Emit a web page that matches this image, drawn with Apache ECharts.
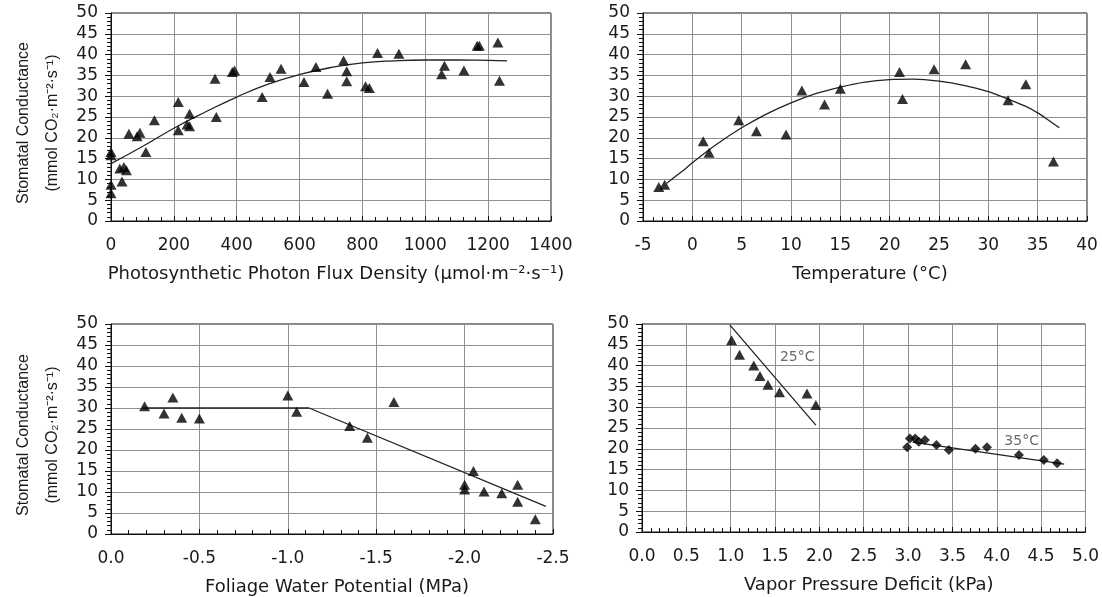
<!DOCTYPE html>
<html>
<head>
<meta charset="utf-8">
<script src="https://cdn.jsdelivr.net/npm/echarts@6/dist/echarts.min.js"></script>
<style>
html, body { margin: 0; padding: 0; background: #fff; }
#main { width: 1102px; height: 597px; }
</style>
</head>
<body>
<div id="main"></div>
<script>
// 光量子通量密度 (PPFD) 面板
var ppfdPoints = [
    [0, 16.6], [0, 15.8], [0, 8.7], [0, 6.7], [28, 12.6], [41, 13.0], [49, 12.2], [35, 9.5],
    [57, 21.0], [83, 20.4], [92, 21.2], [111, 16.6], [138, 24.2], [214, 28.6], [214, 21.8],
    [242, 23.2], [250, 22.8], [250, 25.8], [331, 34.2], [335, 25.0], [386, 35.8], [393, 36.2],
    [481, 29.8], [506, 34.6], [541, 36.6], [614, 33.4], [652, 37.0], [689, 30.6], [740, 38.6],
    [750, 36.0], [750, 33.6], [810, 32.4], [822, 32.0], [848, 40.4], [916, 40.2], [1052, 35.3],
    [1061, 37.3], [1123, 36.2], [1165, 42.1], [1172, 42.1], [1231, 42.9], [1236, 33.7]
];
var ppfdCurve = [
    [0, 13.8], [100, 17.9], [200, 22.3], [300, 26.2], [400, 29.8], [500, 32.9], [600, 35.2],
    [700, 36.9], [800, 38.0], [900, 38.5], [1000, 38.7], [1100, 38.7], [1200, 38.6], [1260, 38.5]
];

// 温度面板
var tempPoints = [
    [-3.4, 8.2], [-2.8, 8.7], [1.1, 19.2], [1.7, 16.4], [4.7, 24.2], [6.5, 21.6], [9.5, 20.8],
    [11.1, 31.4], [13.4, 28.0], [15.0, 31.8], [21.0, 35.8], [21.3, 29.3], [24.5, 36.5],
    [27.7, 37.7], [32.0, 29.0], [33.8, 32.9], [36.6, 14.3]
];
var tempCurve = [
    [-2.6, 9.1], [-1, 12.0], [0, 14.0], [2.5, 18.5], [5, 22.4], [7.5, 25.7], [10, 28.4],
    [12.5, 30.6], [15, 32.2], [17.5, 33.4], [20, 34.0], [22.5, 34.1], [25, 33.6], [27.5, 32.6],
    [30, 31.1], [32, 29.3], [33.75, 27.6], [35, 26.0], [36, 24.4], [37.2, 22.4]
];

// 叶水势面板
var wpPoints = [
    [-0.19, 30.4], [-0.30, 28.7], [-0.35, 32.5], [-0.40, 27.7], [-0.50, 27.5], [-1.00, 33.0],
    [-1.05, 29.1], [-1.35, 25.7], [-1.45, 22.9], [-1.60, 31.4], [-2.00, 11.7], [-2.00, 10.6],
    [-2.05, 15.0], [-2.11, 10.1], [-2.21, 9.7], [-2.30, 11.7], [-2.30, 7.7], [-2.40, 3.5]
];
var wpLine = [[-0.18, 30], [-1.12, 30], [-2.46, 6.6]];

// 饱和水汽压差面板
var vpd25Points = [
    [1.01, 46.1], [1.10, 42.6], [1.26, 40.0], [1.33, 37.5], [1.42, 35.4], [1.55, 33.6],
    [1.86, 33.3], [1.96, 30.5]
];
var vpd25Line = [[0.99, 49.8], [1.96, 25.7]];
var vpd35Points = [
    [2.99, 20.4], [3.02, 22.5], [3.08, 22.5], [3.12, 21.7], [3.19, 22.1], [3.32, 20.9],
    [3.46, 19.7], [3.76, 20.0], [3.89, 20.4], [4.25, 18.5], [4.53, 17.3], [4.68, 16.5]
];
var vpd35Line = [[3.05, 21.6], [4.76, 16.3]];
var vpdLabels = [[1.75, 42.1, '25°C'], [4.28, 21.8, '35°C']];

var yName = 'Stomatal Conductance\n(mmol CO\u2082\u00b7m\u207b\u00b2\u00b7s\u207b\u00b9)';
var tickFont = 'DejaVu Sans';
var gridColor = '#8f8f8f';

function xAxisOf(gi, min, max, step, name, digits, inverse) {
    return {
        type: 'value', gridIndex: gi, min: min, max: max, interval: step, inverse: !!inverse,
        name: name, nameLocation: 'middle', nameGap: 44,
        nameTextStyle: { fontFamily: tickFont, fontSize: 18, color: '#1a1a1a', padding: [0, 0, 0, 10] },
        axisLine: { onZero: false, lineStyle: { color: '#111', width: 1 } },
        axisTick: { inside: true, length: 5, lineStyle: { color: '#111' } },
        minorTick: { show: true, splitNumber: 5, length: 4, lineStyle: { color: '#111' } },
        axisLabel: {
            fontFamily: tickFont, fontSize: 17, color: '#1a1a1a', margin: 16,
            showMinLabel: true, showMaxLabel: true, hideOverlap: false,
            formatter: function (v) { return digits ? v.toFixed(digits) : String(v); }
        },
        splitLine: { show: true, lineStyle: { color: gridColor, width: 1 } }
    };
}

function yAxisOf(gi, withName) {
    return {
        type: 'value', gridIndex: gi, min: 0, max: 50, interval: 5,
        name: withName ? yName : '', nameLocation: 'middle', nameGap: 44, nameRotate: 90,
        nameTextStyle: { fontFamily: 'Liberation Sans', fontSize: 16, color: '#1a1a1a', lineHeight: 29, padding: [0, 12, 0, 0] },
        axisLine: { onZero: false, lineStyle: { color: '#111', width: 1 } },
        axisTick: { inside: false, length: 6, lineStyle: { color: '#111' } },
        minorTick: { show: true, splitNumber: 5, length: 4, lineStyle: { color: '#111' } },
        axisLabel: { fontFamily: tickFont, fontSize: 17, color: '#1a1a1a', margin: 13 },
        splitLine: { show: true, lineStyle: { color: gridColor, width: 1 } }
    };
}

function scatterOf(i, data, shape, size) {
    return {
        type: 'scatter', xAxisIndex: i, yAxisIndex: i, data: data, symbol: shape,
        symbolSize: size, itemStyle: { color: '#000' }, z: 5, silent: true
    };
}

function lineOf(i, data, smooth) {
    return {
        type: 'line', xAxisIndex: i, yAxisIndex: i, data: data, symbol: 'none',
        smooth: smooth, lineStyle: { color: '#222', width: 1.3 }, z: 3, silent: true
    };
}

var chart = echarts.init(document.getElementById('main'), null, { renderer: 'canvas' });
chart.setOption({
    animation: false,
    backgroundColor: '#fff',
    grid: [
        { left: 111, top: 13, width: 440, height: 208, show: true, borderColor: '#111', borderWidth: 1 },
        { left: 643, top: 13, width: 444, height: 208, show: true, borderColor: '#111', borderWidth: 1 },
        { left: 111, top: 324, width: 442, height: 210, show: true, borderColor: '#111', borderWidth: 1 },
        { left: 642, top: 324, width: 445, height: 208, show: true, borderColor: '#111', borderWidth: 1 }
    ],
    xAxis: [
        xAxisOf(0, 0, 1400, 200, 'Photosynthetic Photon Flux Density (\u03bcmol\u00b7m\u207b\u00b2\u00b7s\u207b\u00b9)', 0),
        xAxisOf(1, -5, 40, 5, 'Temperature (\u00b0C)', 0),
        xAxisOf(2, -2.5, 0, 0.5, 'Foliage Water Potential (MPa)', 1, true),
        xAxisOf(3, 0, 5, 0.5, 'Vapor Pressure Deficit (kPa)', 1)
    ],
    yAxis: [yAxisOf(0, true), yAxisOf(1, false), yAxisOf(2, true), yAxisOf(3, false)],
    series: [
        lineOf(0, ppfdCurve, true),
        scatterOf(0, ppfdPoints, 'triangle', [11, 10]),
        lineOf(1, tempCurve, 0.2),
        scatterOf(1, tempPoints, 'triangle', [11, 10]),
        lineOf(2, wpLine, false),
        scatterOf(2, wpPoints, 'triangle', [11, 10]),
        lineOf(3, vpd25Line, false),
        scatterOf(3, vpd25Points, 'triangle', [11, 10]),
        lineOf(3, vpd35Line, false),
        scatterOf(3, vpd35Points, 'diamond', [10, 10]),
        {
            type: 'scatter', xAxisIndex: 3, yAxisIndex: 3, symbolSize: 0, silent: true,
            data: vpdLabels.map(function (d) { return { value: [d[0], d[1]], name: d[2] }; }),
            label: {
                show: true, position: 'inside', formatter: '{b}',
                fontFamily: tickFont, fontSize: 14, color: '#444', backgroundColor: '#fff'
            }
        }
    ]
});
</script>
</body>
</html>
